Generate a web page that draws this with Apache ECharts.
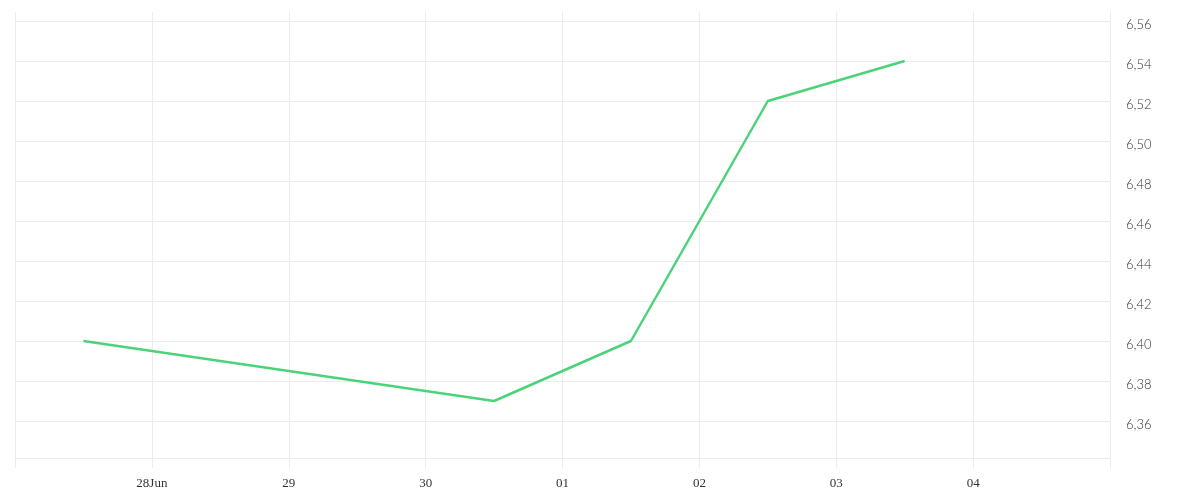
<!DOCTYPE html>
<html>
<head>
<meta charset="utf-8">
<script src="https://cdn.jsdelivr.net/npm/echarts@6/dist/echarts.min.js"></script>
<style>html,body{margin:0;padding:0;background:#fff;}#c{width:1200px;height:500px;}</style>
</head>
<body>
<div id="c"></div>
<script>
var dates = ['2025-06-27 12:00', '2025-06-30 12:00', '2025-07-01 12:00', '2025-07-02 12:00', '2025-07-03 12:00'];
var rates = [6.40, 6.37, 6.40, 6.52, 6.54];
var tickDays = ['2025-06-27', '2025-06-28', '2025-06-29', '2025-06-30', '2025-07-01', '2025-07-02', '2025-07-03', '2025-07-04', '2025-07-05'];
var tickLabels = ['', '28Jun', '29', '30', '01', '02', '03', '04', ''];
var yMin = 6.3415, yMax = 6.56;

function pad(n){return (n<10?'0':'')+n;}
function dayKey(v){var d=new Date(v);return d.getFullYear()+'-'+pad(d.getMonth()+1)+'-'+pad(d.getDate());}

var gridColor = '#ececec';
var chart = echarts.init(document.getElementById('c'));
chart.setOption({
  animation: false,
  grid: {left: 15, right: 90, top: 21, bottom: 42},
  xAxis: [{
    type: 'time',
    min: tickDays[0],
    max: tickDays[tickDays.length-1],
    minInterval: 86400000,
    maxInterval: 86400000,
    axisLine: {show: true, lineStyle: {color: gridColor, width: 1}},
    axisTick: {show: true, length: 10, lineStyle: {color: gridColor}},
    splitLine: {show: true, lineStyle: {color: gridColor, width: 1}},
    axisLabel: {
      margin: 19,
      showMinLabel: false,
      showMaxLabel: false,
      color: '#333',
      fontFamily: 'Liberation Serif',
      fontSize: 13,
      formatter: function(v){var i=tickDays.indexOf(dayKey(v));return i>=0?tickLabels[i]:'';}
    }
  },{
    type: 'time',
    position: 'top',
    min: tickDays[0],
    max: tickDays[tickDays.length-1],
    minInterval: 86400000,
    maxInterval: 86400000,
    axisLine: {show: false},
    axisTick: {show: true, length: 9, lineStyle: {color: gridColor}},
    splitLine: {show: false},
    axisLabel: {show: false}
  }],
  yAxis: {
    type: 'value',
    position: 'right',
    min: yMin,
    max: yMax,
    minInterval: 0.02,
    maxInterval: 0.02,
    axisLine: {show: false},
    axisTick: {show: false},
    splitLine: {show: true, lineStyle: {color: gridColor, width: 1}},
    axisLabel: {
      showMinLabel: false,
      margin: 16,
      formatter: function(v){return '{v|' + v.toFixed(2).replace('.', ',') + '}';},
      rich: {
        v: {
          color: '#333',
          fontFamily: 'Lato',
          fontWeight: 300,
          fontSize: 13,
          padding: [8, 0, 0, 0]
        }
      }
    }
  },
  series: [{
    type: 'line',
    xAxisIndex: 0,
    data: dates.map(function(d,i){return [d, rates[i]];}),
    showSymbol: false,
    symbol: 'none',
    lineStyle: {color: '#4cd37a', width: 2.5},
    itemStyle: {color: '#4cd37a'}
  }]
});
</script>
</body>
</html>
